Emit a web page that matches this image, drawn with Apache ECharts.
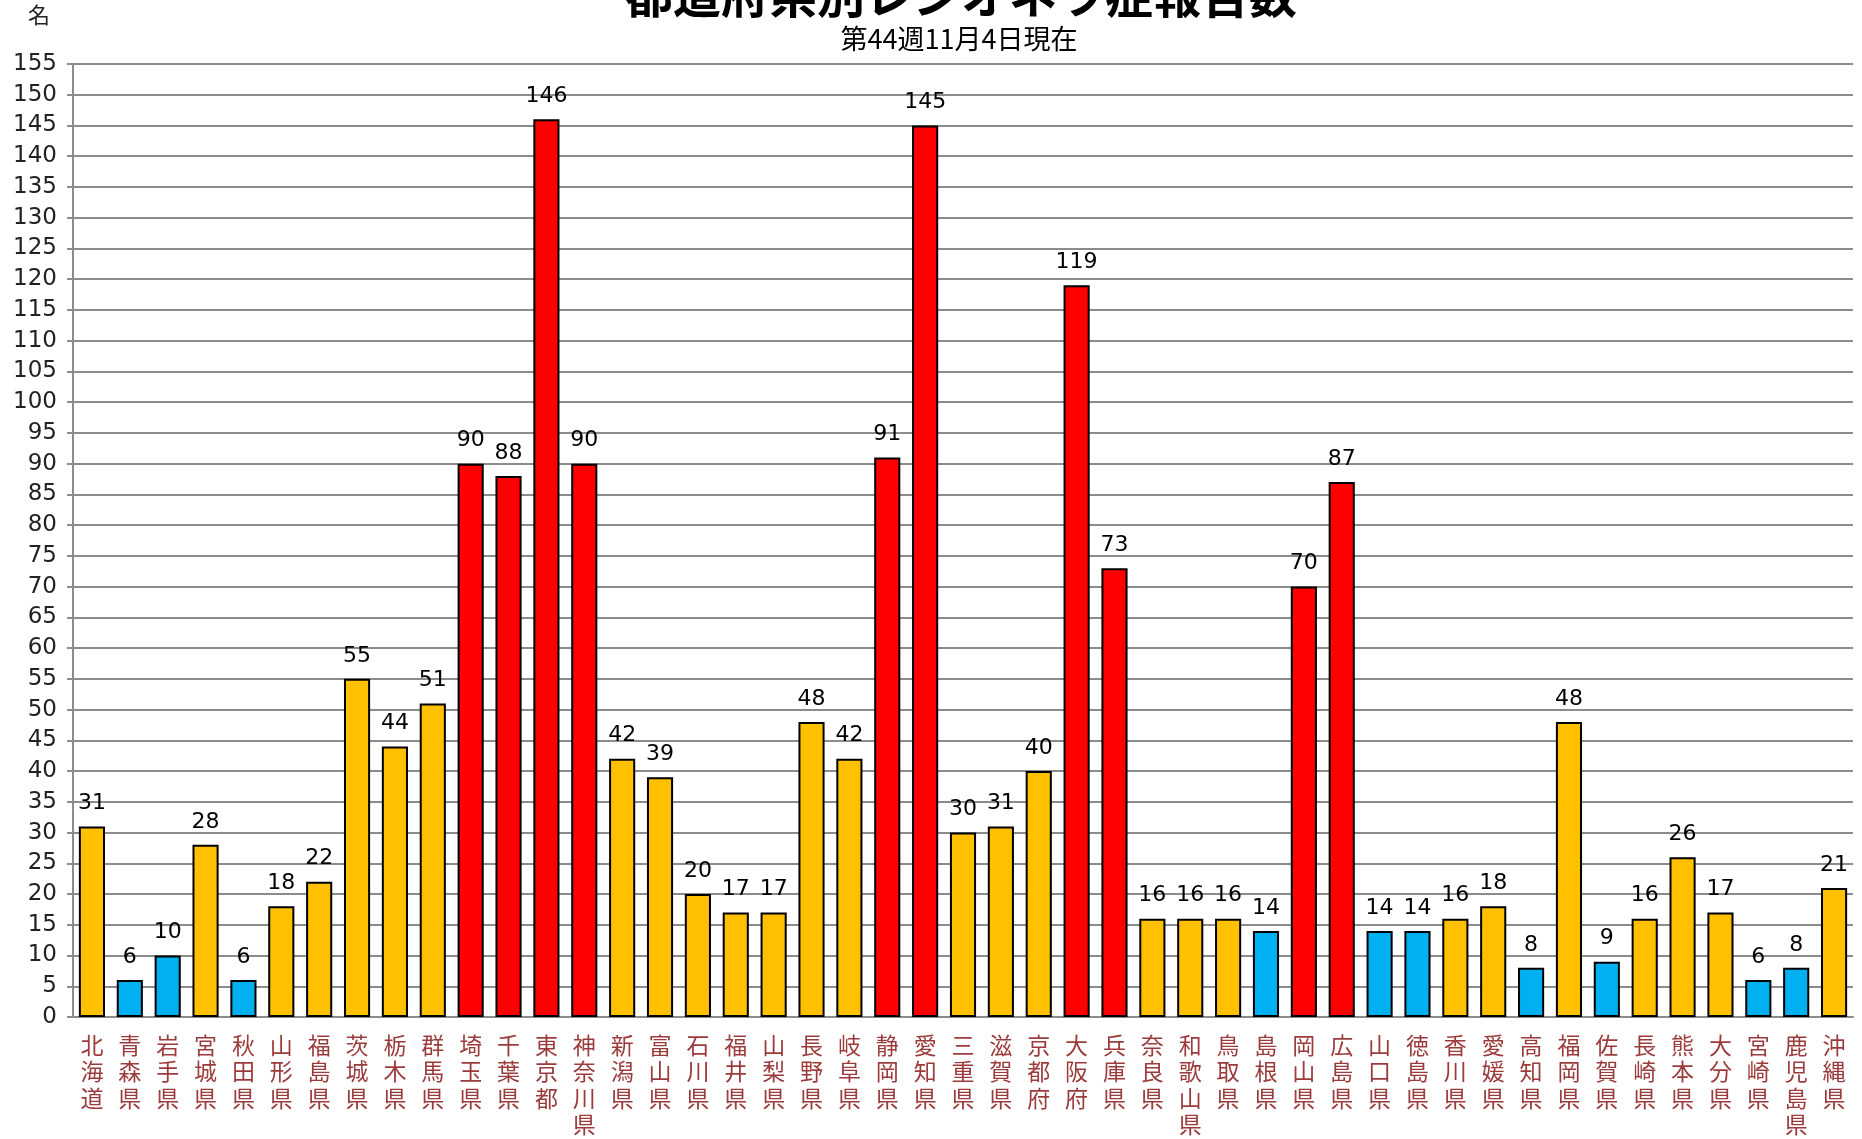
<!DOCTYPE html>
<html>
<head>
<meta charset="utf-8">
<script src="https://cdn.jsdelivr.net/npm/echarts@6/dist/echarts.min.js"></script>
<style>
    html, body { margin: 0; padding: 0; background: #fff; }
    #main { width: 1862px; height: 1139px; }
</style>
</head>
<body>
<div id="main"></div>
<script>
// 都道府県
var prefs = ['北海道', '青森県', '岩手県', '宮城県', '秋田県', '山形県', '福島県', '茨城県', '栃木県', '群馬県',
    '埼玉県', '千葉県', '東京都', '神奈川県', '新潟県', '富山県', '石川県', '福井県', '山梨県', '長野県',
    '岐阜県', '静岡県', '愛知県', '三重県', '滋賀県', '京都府', '大阪府', '兵庫県', '奈良県', '和歌山県',
    '鳥取県', '島根県', '岡山県', '広島県', '山口県', '徳島県', '香川県', '愛媛県', '高知県', '福岡県',
    '佐賀県', '長崎県', '熊本県', '大分県', '宮崎県', '鹿児島県', '沖縄県']
// 報告数
var counts = [31, 6, 10, 28, 6, 18, 22, 55, 44, 51,
    90, 88, 146, 90, 42, 39, 20, 17, 17, 48,
    42, 91, 145, 30, 31, 40, 119, 73, 16, 16,
    16, 14, 70, 87, 14, 14, 16, 18, 8, 48,
    9, 16, 26, 17, 6, 8, 21]
var yTicks = { min: 0, max: 155, interval: 5 }

var echart = echarts.init(document.getElementById('main'))

function barColor(v) {
    if (v < 15) return '#00B0F0'
    if (v >= 60) return '#FF0000'
    return '#FFC000'
}

var option = {
    backgroundColor: '#fff',
    animation: false,
    title: [{
        text: '都道府県別レジオネラ症報告数',
        left: 956,
        top: -34,
        textAlign: 'center',
        textStyle: {
            fontFamily: 'Noto Sans CJK JP',
            fontSize: 48,
            fontWeight: 'bold',
            color: '#000'
        }
    }, {
        text: '第44週11月4日現在',
        left: 954,
        top: 20,
        textAlign: 'center',
        textStyle: {
            fontFamily: 'Noto Sans CJK JP',
            fontSize: 27,
            fontWeight: 'normal',
            color: '#000'
        }
    }],
    grid: {
        left: 73,
        right: 9,
        top: 64,
        bottom: 122
    },
    xAxis: {
        type: 'category',
        data: prefs,
        axisLine: {
            lineStyle: { color: '#8c8c8c', width: 2 }
        },
        axisTick: {
            length: 6,
            lineStyle: { color: '#8c8c8c', width: 2 }
        },
        axisLabel: {
            interval: 0,
            margin: 15,
            color: '#9c3b3b',
            fontFamily: 'Noto Sans CJK JP',
            fontSize: 23,
            lineHeight: 26.5,
            formatter: function (v) {
                return v.split('').join('\n')
            }
        }
    },
    yAxis: {
        type: 'value',
        min: yTicks.min,
        max: yTicks.max,
        interval: yTicks.interval,
        name: '名',
        nameLocation: 'end',
        nameGap: 38,
        nameTextStyle: {
            fontFamily: 'Noto Sans CJK JP',
            fontSize: 22,
            color: '#222',
            align: 'center',
            padding: [0, 68, 0, 0]
        },
        axisLine: {
            show: true,
            lineStyle: { color: '#8c8c8c', width: 2 }
        },
        axisTick: {
            show: true,
            length: 6,
            lineStyle: { color: '#8c8c8c', width: 2 }
        },
        splitLine: {
            lineStyle: { color: '#8c8c8c', width: 2 }
        },
        axisLabel: {
            margin: 16,
            color: '#222',
            fontFamily: 'DejaVu Sans',
            fontSize: 23
        }
    },
    series: [{
        type: 'bar',
        barCategoryGap: '31%',
        data: counts.map(function (v) {
            return {
                value: v,
                itemStyle: { color: barColor(v) }
            }
        }),
        itemStyle: {
            borderColor: '#000',
            borderWidth: 2
        },
        label: {
            show: true,
            position: 'top',
            distance: 12,
            color: '#000',
            fontFamily: 'DejaVu Sans',
            fontSize: 22
        }
    }]
}
echart.setOption(option)
</script>
</body>
</html>
